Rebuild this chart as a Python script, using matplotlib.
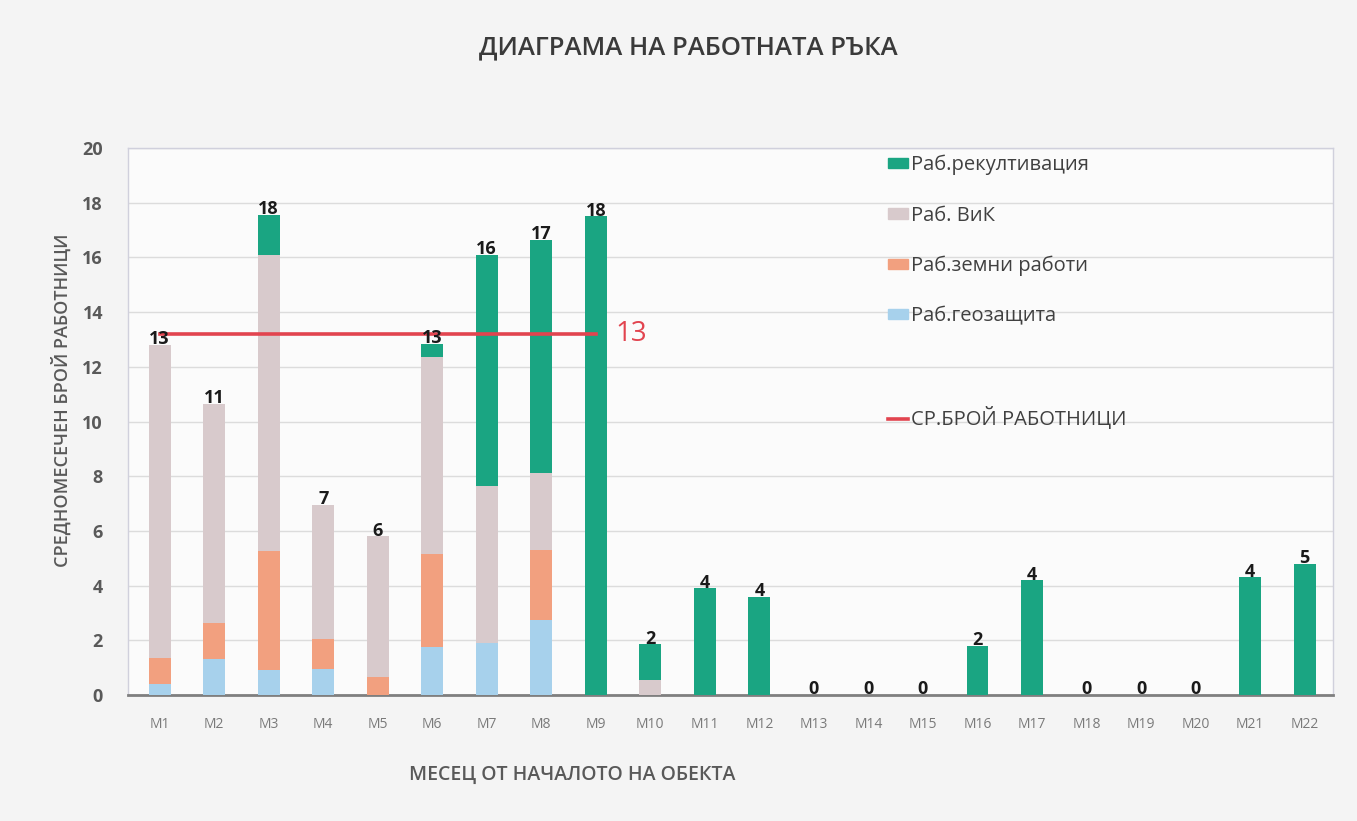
import matplotlib
matplotlib.use("Agg")
import matplotlib.pyplot as plt
from matplotlib.patches import Patch
from matplotlib.lines import Line2D
import numpy as np

plt.rcParams['font.family'] = ['Open Sans', 'DejaVu Sans']

months = [f"M{i}" for i in range(1, 23)]
geo = [0.4, 1.3, 0.9, 0.95, 0, 1.75, 1.9, 2.75, 0, 0, 0, 0, 0, 0, 0, 0, 0, 0, 0, 0, 0, 0]
earth = [0.95, 1.35, 4.35, 1.1, 0.65, 3.4, 0, 2.55, 0, 0, 0, 0, 0, 0, 0, 0, 0, 0, 0, 0, 0, 0]
vik = [11.45, 8.0, 10.85, 4.9, 5.15, 7.2, 5.75, 2.8, 0, 0.55, 0, 0, 0, 0, 0, 0, 0, 0, 0, 0, 0, 0]
recl = [0, 0, 1.45, 0, 0, 0.5, 8.45, 8.55, 17.5, 1.3, 3.9, 3.6, 0, 0, 0, 1.8, 4.2, 0, 0, 0, 4.3, 4.8]
total_labels = [13, 11, 18, 7, 6, 13, 16, 17, 18, 2, 4, 4, 0, 0, 0, 2, 4, 0, 0, 0, 4, 5]
avg_value = 13.2
avg_label = "13"
avg_span = (0, 8)  # M1..M9

series_names = ["Раб.рекултивация", "Раб. ВиК", "Раб.земни работи", "Раб.геозащита"]
avg_name = "СР.БРОЙ РАБОТНИЦИ"
title = "ДИАГРАМА НА РАБОТНАТА РЪКА"
ylabel = "СРЕДНОМЕСЕЧЕН БРОЙ РАБОТНИЦИ"
xlabel = "МЕСЕЦ ОТ НАЧАЛОТО НА ОБЕКТА"

c_geo = "#a7d1ec"
c_earth = "#f2a07f"
c_vik = "#d8cacc"
c_recl = "#1aa582"
c_avg = "#e2444f"

W, H = 1357, 821
fig = plt.figure(figsize=(W / 100, H / 100), dpi=100)
fig.patch.set_facecolor("#f4f4f4")
ax = fig.add_axes([128 / W, 1 - 695 / H, (1333 - 128) / W, (695 - 148) / H])
ax.set_facecolor("#fbfbfb")

x = np.arange(len(months))
bw = 0.4
geo_a, earth_a, vik_a, recl_a = map(np.array, (geo, earth, vik, recl))
ax.bar(x, geo_a, bw, color=c_geo, zorder=3)
ax.bar(x, earth_a, bw, bottom=geo_a, color=c_earth, zorder=3)
ax.bar(x, vik_a, bw, bottom=geo_a + earth_a, color=c_vik, zorder=3)
ax.bar(x, recl_a, bw, bottom=geo_a + earth_a + vik_a, color=c_recl, zorder=3)
tops = geo_a + earth_a + vik_a + recl_a

for xi, t, lab in zip(x, tops, total_labels):
    ax.annotate(str(lab), (xi, t), xytext=(0, 4), textcoords="offset points",
                ha="center", va="center", fontsize=13, fontweight="bold",
                color="#1a1a1a", zorder=5)

ax.plot([avg_span[0], avg_span[1]], [avg_value, avg_value], color=c_avg, lw=2.6, zorder=4)
ax.annotate(avg_label, (avg_span[1], avg_value), xytext=(14, 0), textcoords="offset points",
            ha="left", va="center", fontsize=20, color=c_avg, zorder=5)

ax.set_ylim(0, 20)
ax.set_xlim(-0.58, 21.52)
ax.set_yticks(range(0, 21, 2))
ax.set_xticks(x)
ax.set_xticklabels(months)
ax.tick_params(axis="y", length=0, pad=18, labelsize=13, labelcolor="#595959")
ax.tick_params(axis="x", length=0, pad=16, labelsize=10, labelcolor="#7a7a7a")
for lab in ax.get_yticklabels():
    lab.set_fontweight("bold")
ax.grid(axis="y", color="#dcdcdc", lw=1, zorder=0)
for s in ("top", "right", "left"):
    ax.spines[s].set_color("#d0d0dc")
    ax.spines[s].set_linewidth(1)
ax.spines["bottom"].set_color("#7f7f7f")
ax.spines["bottom"].set_linewidth(2)

fig.text(688 / W, 1 - 48 / H, title, ha="center", va="center", fontsize=18.5,
         fontweight="semibold", color="#3a3a3a")
fig.text(62 / W, 1 - 400 / H, ylabel, ha="center", va="center", rotation=90,
         fontsize=13, fontweight="semibold", color="#595959")
fig.text(572 / W, 1 - 775 / H, xlabel, ha="center", va="center", fontsize=14,
         fontweight="semibold", color="#595959")

handles = [Patch(color=c_recl), Patch(color=c_vik), Patch(color=c_earth), Patch(color=c_geo),
           Line2D([], [], color="none"), Line2D([], [], color=c_avg, lw=2.6)]
labels = series_names + [" ", avg_name]
leg = ax.legend(handles, labels, loc="upper left", bbox_to_anchor=(888 / W, 1 - 155 / H),
                bbox_transform=fig.transFigure, frameon=False, fontsize=14.5,
                handlelength=1.0, handleheight=0.4, handletextpad=0.12,
                labelspacing=1.5, borderpad=0, borderaxespad=0)
for t in leg.get_texts():
    t.set_color("#404040")

fig.savefig("out.png", dpi=100, facecolor=fig.get_facecolor())
